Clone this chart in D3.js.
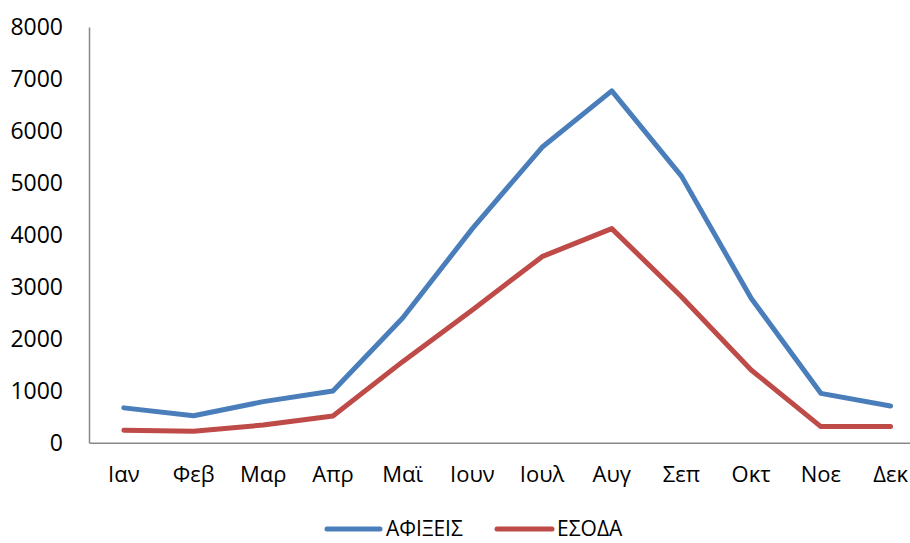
<!DOCTYPE html>
<html><head><meta charset="utf-8">
<script src="https://cdn.jsdelivr.net/npm/d3@7"></script>
<style>body{margin:0;background:#fff}svg{display:block}text{font-family:"Open Sans","Liberation Sans",sans-serif;fill:#000}</style>
</head><body><svg id="c" width="910" height="543"></svg>
<script>
const months = ["Ιαν","Φεβ","Μαρ","Απρ","Μαϊ","Ιουν","Ιουλ","Αυγ","Σεπ","Οκτ","Νοε","Δεκ"];
const arrivals = [670, 520, 790, 995, 2400, 4120, 5685, 6770, 5130, 2780, 950, 705];
const revenue = [240, 220, 340, 515, 1560, 2555, 3580, 4120, 2810, 1400, 310, 310];
const seriesNames = ["ΑΦΙΞΕΙΣ", "ΕΣΟΔΑ"];
const colors = ["#4a7ebb", "#be4b48"];
const yTicks = [0,1000,2000,3000,4000,5000,6000,7000,8000];

(function(){
const svg = d3.select("#c");
const mLeft = 89, mTop = 27, mBottom = 442.7, bandW = 69.7;
const ff = "'Open Sans','Liberation Sans',sans-serif";
const x = d3.scaleBand().domain(months).range([mLeft, mLeft + bandW*12]).paddingInner(0).paddingOuter(0);
const y = d3.scaleLinear().domain([0, 8000]).range([mBottom, mTop]);

const ya = svg.append("g").attr("transform", `translate(${mLeft},0)`)
  .call(d3.axisLeft(y).tickValues(yTicks).tickFormat(d3.format("d")).tickSize(0).tickPadding(26));
ya.select(".domain").attr("stroke", "#898989").attr("stroke-width", 1.5);
ya.selectAll("text").attr("font-size", 23).style("font-family", ff);

const xa = svg.append("g").attr("transform", `translate(0,${mBottom})`)
  .call(d3.axisBottom(x).tickSize(0).tickPadding(24));
xa.select(".domain").attr("stroke", "#898989").attr("stroke-width", 1.5);
xa.selectAll("text").attr("font-size", 22).style("font-family", ff);

const line = d3.line().x((d,i) => x(months[i]) + x.bandwidth()/2).y(d => y(d));
[arrivals, revenue].forEach((s, k) => {
  svg.append("path").datum(s).attr("d", line).attr("fill", "none")
    .attr("stroke", colors[k]).attr("stroke-width", 5)
    .attr("stroke-linejoin", "round").attr("stroke-linecap", "round");
});

const leg = [{x1:327,x2:380,tx:386},{x1:497,x2:552,tx:557}];
seriesNames.forEach((n,k) => {
  svg.append("line").attr("x1", leg[k].x1).attr("x2", leg[k].x2).attr("y1", 529).attr("y2", 529)
    .attr("stroke", colors[k]).attr("stroke-width", 5).attr("stroke-linecap","round");
  svg.append("text").attr("x", leg[k].tx).attr("y", 536)
    .attr("font-size", 21).text(n);
});
})();
</script></body></html>
